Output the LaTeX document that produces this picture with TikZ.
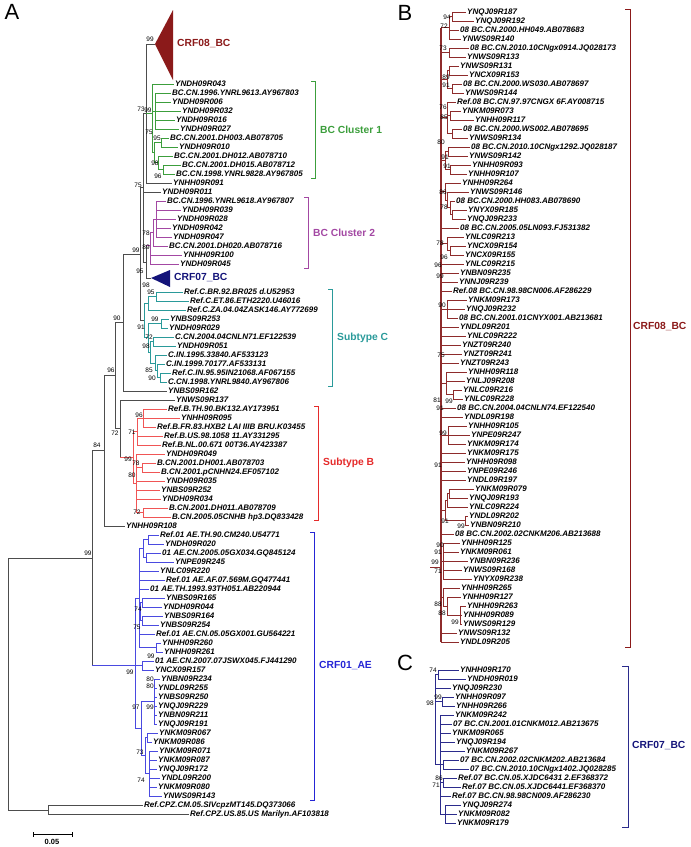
\documentclass[tikz,border=0pt]{standalone}
\usepackage{fontspec}
\setmainfont{Liberation Sans}
\usetikzlibrary{calc}
\definecolor{Ink}{HTML}{4D4D4D}
\definecolor{Maroon}{HTML}{8B1A1A}
\definecolor{MaroonLine}{HTML}{8E2B2B}
\definecolor{Grass}{HTML}{3C9E3C}
\definecolor{Plum}{HTML}{A348A3}
\definecolor{Navy}{HTML}{14147A}
\definecolor{NavyLine}{HTML}{2B2B8C}
\definecolor{Teal}{HTML}{2A9A9A}
\definecolor{RedLine}{HTML}{F05555}
\definecolor{RedLab}{HTML}{E52B2B}
\definecolor{BlueLine}{HTML}{4A4AE0}
\definecolor{BlueLab}{HTML}{2525D5}
\tikzset{
  leaf/.style={anchor=west,inner sep=0pt,text height=5.7pt,text depth=0pt,
    font=\fontsize{8}{9}\selectfont\bfseries\itshape},
  bs/.style={inner sep=0pt,font=\fontsize{6.5}{7}\selectfont},
  clade/.style={anchor=west,inner sep=0pt,font=\fontsize{10.3}{12}\selectfont\bfseries},
  panel/.style={inner sep=0pt,font=\fontsize{22}{24}\selectfont},
  br/.style={line width=0.75pt},
}
\begin{document}
\begin{tikzpicture}[x=1pt,y=-1pt]
  \useasboundingbox (0,0) rectangle (691,847);
  \node[panel] (pA) at (12,12) {A};
  \node[panel] (pB) at (405,13) {B};
  \node[panel] (pC) at (405,663) {C};

  % ---------- panel A: backbone ----------
  \foreach \x/\ya/\yb in {8/558/810,48/805/814,92/450.75/665,104/375.5/526,
      115/322.5/428.5,120/400/457,123/254/391,140/187.5/320,143/113/262,
      146/44/183,146/245/278}
    \draw[br,Ink] (\x,\ya) -- (\x,\yb);
  \foreach \xa/\xb/\y in {8/92/558,8/48/810,92/104/450.75,104/115/375.5,
      115/123/322.5,115/120/428.5,123/140/254,140/143/187.5,140/144/320,
      143/146/113,143/146/262,146/155/44,146/151/278}
    \draw[br,Ink] (\xa,\y) -- (\xb,\y);
  \foreach \y/\xa/\xt/\lab in {183/146/173/YNHH09R091,192/143/162/YNDH09R011,
      391/123/168/YNBS09R162,400/120/176/YNWS09R137,526/104/126/YNHH09R108,
      805/48/144/Ref.CPZ.CM.05.SIVcpzMT145.DQ373066,
      814/48/190/Ref.CPZ.US.85.US Marilyn.AF103818}
    {
      \node[leaf] (la\y) at (\xt,\y) {\lab};
      \draw[br,Ink] (\xa,\y) -- ([xshift=-1.5pt]la\y.west);
    }

  % collapsed clades
  \fill[Maroon] (155,44) -- (173,10) -- (173,80) -- cycle;
  \node[clade,text=Maroon] (c08a) at (177,44) {CRF08\_BC};
  \fill[Navy] (151,278) -- (170,270) -- (170,287) -- cycle;
  \node[clade,text=Navy] (c07a) at (174,278) {CRF07\_BC};

  % ---------- BC cluster 1 ----------
  \foreach \x/\ya/\yb in {152/84/152.6,155/93/129,161/138/147,163/165/174,
      158/156/169.5,154/142.5/162.75}
    \draw[br,Grass] (\x,\ya) -- (\x,\yb);
  \foreach \xa/\xb/\y in {146/152/113,152/155/111,152/154/152.6,154/161/142.5,
      154/158/162.75,158/163/169.5}
    \draw[br,Grass] (\xa,\y) -- (\xb,\y);
  \foreach \y/\xa/\xt/\lab in {84/152/175/YNDH09R043,
      93/155/172/BC.CN.1996.YNRL9613.AY967803,102/155/172/YNDH09R006,
      111/155/182/YNDH09R032,120/155/176/YNDH09R016,129/155/180/YNDH09R027,
      138/161/170/BC.CN.2001.DH003.AB078705,147/161/179/YNDH09R010,
      156/158/174/BC.CN.2001.DH012.AB078710,165/163/182/BC.CN.2001.DH015.AB078712,
      174/163/176/BC.CN.1998.YNRL9828.AY967805}
    {
      \node[leaf] (la\y) at (\xt,\y) {\lab};
      \draw[br,Grass] (\xa,\y) -- ([xshift=-1.5pt]la\y.west);
    }

  % ---------- BC cluster 2 ----------
  \foreach \x/\ya/\yb in {156/201/237,153/219/246,150/232.5/264}
    \draw[br,Plum] (\x,\ya) -- (\x,\yb);
  \foreach \xa/\xb/\y in {146/150/245,150/153/232.5,153/156/219}
    \draw[br,Plum] (\xa,\y) -- (\xb,\y);
  \foreach \y/\xa/\xt/\lab in {201/156/167/BC.CN.1996.YNRL9618.AY967807,
      210/156/182/YNDH09R039,219/156/177/YNDH09R028,228/156/172/YNDH09R042,
      237/156/173/YNDH09R047,246/153/169/BC.CN.2001.DH020.AB078716,
      255/150/183/YNHH09R100,264/150/180/YNDH09R045}
    {
      \node[leaf] (la\y) at (\xt,\y) {\lab};
      \draw[br,Plum] (\xa,\y) -- ([xshift=-1.5pt]la\y.west);
    }

  % ---------- subtype C ----------
  \foreach \x/\ya/\yb in {156/292/301,148/296.5/310,161/319/328,153/337/346,
      160/373/382,157/364/377.5,155/355/370.75,150/341.5/362.9,148/323.5/352,
      144/303/337.75}
    \draw[br,Teal] (\x,\ya) -- (\x,\yb);
  \foreach \xa/\xb/\y in {148/156/296.5,157/160/377.5,155/157/370.75,
      150/153/341.5,150/155/362.9,148/161/323.5,148/150/352,144/148/303,
      144/148/337.75}
    \draw[br,Teal] (\xa,\y) -- (\xb,\y);
  \foreach \y/\xa/\xt/\lab in {292/156/184/Ref.C.BR.92.BR025 d.U52953,
      301/156/190/Ref.C.ET.86.ETH2220.U46016,
      310/148/187/Ref.C.ZA.04.04ZASK146.AY772699,
      319/161/170/YNBS09R253,328/161/169/YNDH09R029,
      337/153/175/C.CN.2004.04CNLN71.EF122539,346/153/177/YNDH09R051,
      355/155/168/C.IN.1995.33840.AF533123,364/157/166/C.IN.1999.70177.AF533131,
      373/160/172/Ref.C.IN.95.95IN21068.AF067155,
      382/160/168/C.CN.1998.YNRL9840.AY967806}
    {
      \node[leaf] (la\y) at (\xt,\y) {\lab};
      \draw[br,Teal] (\xa,\y) -- ([xshift=-1.5pt]la\y.west);
    }

  % ---------- subtype B ----------
  \foreach \x/\ya/\yb in {143/409/427,137/418/445,142/463/472,143/508/517,
      136/454/512.5,133/431.5/483}
    \draw[br,RedLine] (\x,\ya) -- (\x,\yb);
  \foreach \xa/\xb/\y in {120/133/457,133/137/431.5,133/136/483,137/143/418,
      136/142/467.5,136/143/512.5}
    \draw[br,RedLine] (\xa,\y) -- (\xb,\y);
  \foreach \y/\xa/\xt/\lab in {409/143/168/Ref.B.TH.90.BK132.AY173951,
      418/143/181/YNHH09R095,427/143/157/Ref.B.FR.83.HXB2 LAI IIIB BRU.K03455,
      436/137/164/Ref.B.US.98.1058 11.AY331295,
      445/137/162/Ref.B.NL.00.671 00T36.AY423387,454/136/166/YNDH09R049,
      463/142/157/B.CN.2001.DH001.AB078703,472/142/161/B.CN.2001.pCNHN24.EF057102,
      481/136/166/YNDH09R035,490/136/161/YNBS09R252,499/136/162/YNDH09R034,
      508/143/169/B.CN.2001.DH011.AB078709,517/143/172/B.CN.2005.05CNHB hp3.DQ833428}
    {
      \node[leaf] (la\y) at (\xt,\y) {\lab};
      \draw[br,RedLine] (\xa,\y) -- ([xshift=-1.5pt]la\y.west);
    }

  % ---------- CRF01_AE ----------
  \foreach \x/\ya/\yb in {148/535/544,146/553/562,143/539.5/557.5,142/598/607,
      142/616/625,140/602.5/620.5,156/643/652,139/548.5/647.5,142/661/670,
      154/679/724,147/733/742,149/751/796,145/737.5/773.5,141/701.5/755.5,
      135/598/728.5}
    \draw[br,BlueLine] (\x,\ya) -- (\x,\yb);
  \foreach \xa/\xb/\y in {92/135/665,143/148/539.5,143/146/557.5,140/142/602.5,
      140/142/620.5,139/143/548.5,139/140/611.5,139/156/647.5,145/147/737.5,
      145/149/773.5,141/154/701.5,141/145/755.5,135/139/598,135/142/665.5,
      135/141/728.5}
    \draw[br,BlueLine] (\xa,\y) -- (\xb,\y);
  \foreach \y/\xa/\xt/\lab in {535/148/160/Ref.01 AE.TH.90.CM240.U54771,
      544/148/165/YNDH09R020,553/146/162/01 AE.CN.2005.05GX034.GQ845124,
      562/146/175/YNPE09R245,571/139/160/YNLC09R220,
      580/139/166/Ref.01 AE.AF.07.569M.GQ477441,
      589/139/150/01 AE.TH.1993.93TH051.AB220944,598/142/166/YNBS09R165,
      607/142/163/YNDH09R044,616/142/164/YNBS09R164,625/142/160/YNBS09R254,
      634/139/156/Ref.01 AE.CN.05.05GX001.GU564221,643/156/162/YNHH09R260,
      652/156/164/YNHH09R261,661/142/155/01 AE.CN.2007.07JSWX045.FJ441290,
      670/142/155/YNCX09R157,679/154/161/YNBN09R234,688/154/158/YNDL09R255,
      697/154/158/YNBS09R250,706/154/158/YNQJ09R229,715/154/158/YNBN09R211,
      724/154/158/YNQJ09R191,733/147/159/YNKM09R067,742/147/153/YNKM09R086,
      751/149/159/YNKM09R071,760/149/158/YNKM09R087,769/149/158/YNQJ09R172,
      778/149/161/YNDL09R200,787/149/158/YNKM09R080,796/149/163/YNWS09R143}
    {
      \node[leaf] (la\y) at (\xt,\y) {\lab};
      \draw[br,BlueLine] (\xa,\y) -- ([xshift=-1.5pt]la\y.west);
    }

  % bootstrap values, panel A
  \foreach \x/\y/\t [count=\i] in {150/39/99,141/109/73,148/110/99,149/132/75,
      157/138/95,155/163/98,158/176/96,138/185/75,136/250/99,146/233/78,
      146/247/89,140/271/95,146/285/98,151/292/95,155/319/99,141/327/91,
      149/337/72,146/346/98,149/370/85,152/378/90,117/318/90,111/370/96,
      115/433/72,97/445/84,88/553/99,139/415/96,132/432/71,128/459/99,
      136/463/78,132/475/80,137/512/72,130/672/99,138/609/74,137/627/75,
      151/656/99,150/679/80,150/686/80,150/707/99,136/707/97,140/752/73,
      141/780/74}
    \node[bs] (bsa\i) at (\x,\y) {\t};

  % clade brackets, panel A
  \foreach \x/\ya/\yb/\col/\lab/\nm in {315/81/178/Grass/BC Cluster 1/k1,
      308/197/268/Plum/BC Cluster 2/k2,332/289/386/Teal/Subtype C/kc,
      318/406/520/RedLab/Subtype B/kb,314/532/800/BlueLab/CRF01\_AE/kae}
    {
      \draw[br,\col] (\x-4,\ya) -- (\x,\ya) -- (\x,\yb) -- (\x-4,\yb);
      \node[clade,text=\col] (\nm) at (\x+5,{(\ya+\yb)/2}) {\lab};
    }

  % scale bar
  \coordinate (sb1) at (33,834);
  \coordinate (sb2) at (72,834);
  \draw[br] (sb1) -- (sb2);
  \draw[br] ([yshift=-2.5pt]sb1) -- ([yshift=2.5pt]sb1);
  \draw[br] ([yshift=-2.5pt]sb2) -- ([yshift=2.5pt]sb2);
  \node[font=\fontsize{7.5}{8}\selectfont\bfseries,inner sep=0pt] (sbl) at (52,842) {0.05};

  % ---------- panel B ----------
  \draw[line width=1.1pt,MaroonLine] (441,27.75) -- (441,642);
  \draw[br,MaroonLine] (430,567) -- (441,567);
  \foreach \x/\ya/\yb in {452/12/21,449/16.5/39,449/48/57,449/66/75,452/84/93,
      447/70.5/88.5,450/111/120,452/129/138,447/102/133.5,448/147/156,
      450/165/174,445/151.5/169.5,452/210/219,450/201/214.5,447/192/207.75,
      445/183/199.9,450/246/255,447/237/250.5,447/300/318,453/390/399,
      446/372/394.5,448/426/444,449/489/498,447/493.5/507,465/516/525,
      445/500.25/520.5,460/606/624,447/597/615,443/588/606,443/543/579}
    \draw[br,MaroonLine] (\x,\ya) -- (\x,\yb);
  \foreach \xa/\xb/\y in {449/452/16.5,447/449/70.5,447/452/88.5,447/450/115.5,
      447/452/133.5,445/448/151.5,445/450/169.5,450/452/214.5,447/450/207.75,
      445/447/199.9,447/450/250.5,446/453/394.5,447/449/493.5,445/447/500.25,
      445/465/520.5,447/460/615,443/447/606,441/449/27.75,441/449/52.5,
      441/447/79.5,441/447/117.75,441/445/160.5,441/445/191.4,441/447/243.75,
      441/447/309,441/446/383.25,441/448/435,441/445/510.4,441/443/561,
      441/443/597}
    \draw[br,MaroonLine] (\xa,\y) -- (\xb,\y);
  \foreach \y/\xa/\xt/\lab in {12/452/467/YNQJ09R187,21/452/475/YNQJ09R192,
      30/449/460/08 BC.CN.2000.HH049.AB078683,39/449/462/YNWS09R140,
      48/449/470/08 BC.CN.2010.10CNgx0914.JQ028173,57/449/467/YNWS09R133,
      66/449/460/YNWS09R131,75/449/469/YNCX09R153,
      84/452/463/08 BC.CN.2000.WS030.AB078697,93/452/465/YNWS09R144,
      102/447/457/Ref.08 BC.CN.97.97CNGX 6F.AY008715,111/450/462/YNKM09R073,
      120/450/475/YNHH09R117,129/452/463/08 BC.CN.2000.WS002.AB078695,
      138/452/469/YNWS09R134,147/448/471/08 BC.CN.2010.10CNgx1292.JQ028187,
      156/448/469/YNWS09R142,165/450/472/YNHH09R093,174/450/468/YNHH09R107,
      183/445/462/YNHH09R264,192/447/470/YNWS09R146,
      201/450/456/08 BC.CN.2000.HH083.AB078690,210/452/468/YNYX09R185,
      219/452/467/YNQJ09R233,228/441/460/08 BC.CN.2005.05LN093.FJ531382,
      237/447/465/YNLC09R213,246/450/467/YNCX09R154,255/450/465/YNCX09R155,
      264/441/465/YNLC09R215,273/441/460/YNBN09R235,282/441/459/YNNJ09R239,
      291/441/453/Ref.08 BC.CN.98.98CN006.AF286229,300/447/468/YNKM09R173,
      309/447/466/YNQJ09R232,318/447/459/08 BC.CN.2001.01CNYX001.AB213681,
      327/441/460/YNDL09R201,336/441/467/YNLC09R222,345/441/462/YNZT09R240,
      354/441/463/YNZT09R241,363/441/460/YNZT09R243,372/446/468/YNHH09R118,
      381/446/466/YNLJ09R208,390/453/463/YNLC09R216,399/453/464/YNLC09R228,
      408/441/457/08 BC.CN.2004.04CNLN74.EF122540,417/441/464/YNDL09R198,
      426/448/468/YNHH09R105,435/448/471/YNPE09R247,444/448/467/YNKM09R174,
      453/441/467/YNKM09R175,462/441/466/YNHH09R098,471/441/467/YNPE09R246,
      480/441/467/YNDL09R197,489/449/475/YNKM09R079,498/449/469/YNQJ09R193,
      507/447/469/YNLC09R224,516/465/469/YNDL09R202,525/465/470/YNBN09R210,
      534/441/455/08 BC.CN.2002.02CNKM206.AB213688,543/443/461/YNHH09R125,
      552/443/460/YNKM09R061,561/443/469/YNBN09R236,570/443/463/YNWS09R168,
      579/443/473/YNYX09R238,588/443/461/YNHH09R265,597/447/462/YNHH09R127,
      606/460/467/YNHH09R263,615/460/463/YNHH09R089,624/460/463/YNWS09R129,
      633/441/458/YNWS09R132,642/441/460/YNDL09R205}
    {
      \node[leaf] (lb\y) at (\xt,\y) {\lab};
      \draw[br,MaroonLine] (\xa,\y) -- ([xshift=-1.5pt]lb\y.west);
    }
  \foreach \x/\y/\t [count=\i] in {447/17/94,444/26/72,443/48/73,446/77/89,
      446/85/91,443/107/76,444/117/85,441/142/80,445/157/91,447/166/91,
      443/192/86,444/207/78,440/243/78,444/257/96,438/265/96,440/276/99,
      442/305/90,441/355/75,437/400/81,449/401/99,440/408/91,443/433/99,
      438/465/91,445/521/91,461/526/99,440/545/90,438/552/91,435/562/99,
      438/571/71,438/604/88,442/613/88,455/622/99}
    \node[bs] (bsb\i) at (\x,\y) {\t};
  \draw[br,Maroon] (625,9) -- (630,9) -- (630,647) -- (625,647);
  \node[clade,text=Maroon] (c08b) at (633,327) {CRF08\_BC};

  % ---------- panel C ----------
  \foreach \x/\ya/\yb in {438/670/679,442/697/706,443/760/769,443/778/787,
      445/805/823,440/715/814,435/674.5/764.5}
    \draw[br,NavyLine] (\x,\ya) -- (\x,\yb);
  \foreach \xa/\xb/\y in {440/443/764.5,440/443/782.5,440/445/814,
      435/438/674.5,435/442/701.5,435/440/764.5}
    \draw[br,NavyLine] (\xa,\y) -- (\xb,\y);
  \foreach \y/\xa/\xt/\lab in {670/438/460/YNHH09R170,679/438/467/YNDH09R019,
      688/435/452/YNQJ09R230,697/442/455/YNHH09R097,706/442/456/YNHH09R266,
      715/440/455/YNKM09R242,724/440/453/07 BC.CN.2001.01CNKM012.AB213675,
      733/440/452/YNKM09R065,742/440/456/YNQJ09R194,751/440/466/YNKM09R267,
      760/443/460/07 BC.CN.2002.02CNKM202.AB213684,
      769/443/470/07 BC.CN.2010.10CNgx1402.JQ028285,
      778/443/458/Ref.07 BC.CN.05.XJDC6431 2.EF368372,
      787/443/462/Ref.07 BC.CN.05.XJDC6441.EF368370,
      796/440/452/Ref.07 BC.CN.98.98CN009.AF286230,805/445/462/YNQJ09R274,
      814/445/458/YNKM09R082,823/445/457/YNKM09R179}
    {
      \node[leaf] (lc\y) at (\xt,\y) {\lab};
      \draw[br,NavyLine] (\xa,\y) -- ([xshift=-1.5pt]lc\y.west);
    }
  \foreach \x/\y/\t [count=\i] in {433/670/74,438/697/99,430/703/98,
      439/778/86,436/785/71}
    \node[bs] (bsc\i) at (\x,\y) {\t};
  \draw[br,NavyLine] (622,666) -- (628,666) -- (628,827) -- (622,827);
  \node[clade,text=Navy] (c07b) at (632,746) {CRF07\_BC};
\end{tikzpicture}
\end{document}
